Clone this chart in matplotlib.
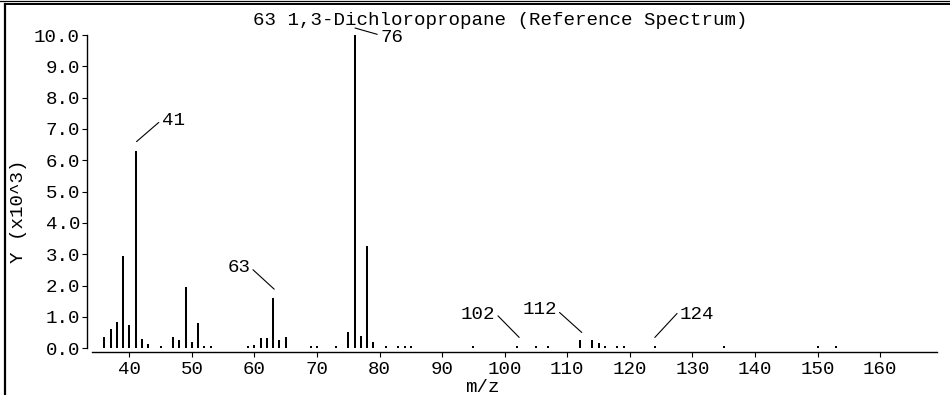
import numpy as np
import matplotlib
matplotlib.use("Agg")
import matplotlib.pyplot as plt
from matplotlib.lines import Line2D
from matplotlib.ticker import FormatStrFormatter
from matplotlib.transforms import offset_copy

plt.rcParams["font.family"] = ["Liberation Mono", "DejaVu Sans Mono"]
plt.rcParams["font.size"] = 13.8

# spectrum (intensity in units of 10^3)
title = "63 1,3-Dichloropropane (Reference Spectrum)"
mz = [36, 37, 38, 39, 40, 41, 42, 43, 45, 47, 48, 49, 50, 51, 52, 53,
      59, 60, 61, 62, 63, 64, 65, 69, 70, 73, 75, 76, 77, 78, 79,
      81, 83, 84, 85, 95, 102, 105, 107, 112, 114, 115, 116, 118, 119,
      124, 135, 150, 153]
intensity = [0.37, 0.62, 0.85, 2.95, 0.74, 6.31, 0.31, 0.13, 0.06, 0.37, 0.26, 1.97, 0.19, 0.80, 0.06, 0.06,
             0.06, 0.10, 0.32, 0.32, 1.60, 0.27, 0.37, 0.06, 0.06, 0.08, 0.51, 10.0, 0.40, 3.25, 0.21,
             0.06, 0.06, 0.06, 0.06, 0.06, 0.06, 0.06, 0.06, 0.25, 0.27, 0.16, 0.06, 0.06, 0.06,
             0.06, 0.06, 0.06, 0.06]
peak_labels = [41, 63, 76, 102, 112, 124]
x_ticks = list(range(40, 161, 10))
y_ticks = list(range(0, 11))

W, H = 950, 395
fig = plt.figure(figsize=(W / 100, H / 100), dpi=100)
ax = fig.add_axes([92 / W, 1 - 348.3 / H, (937 - 92) / W, (348.3 - 35) / H])

ax.vlines(mz, 0, intensity, color="black", lw=1.45)

ax.set_xlim(34.04, 169.1)
ax.set_ylim(0, 10)
ax.set_xticks(x_ticks)
ax.set_yticks(y_ticks)
ax.yaxis.set_major_formatter(FormatStrFormatter("%.1f"))

for s in ["top", "right"]:
    ax.spines[s].set_visible(False)
ax.spines["left"].set_bounds(0, 10)
ax.spines["left"].set_position(("outward", 3.6))
ax.spines["bottom"].set_position(("outward", 2.7))
for s in ["left", "bottom"]:
    ax.spines[s].set_linewidth(1.0)
ax.tick_params(axis="both", direction="out", length=3.6, width=0.8, colors="black")
ax.tick_params(axis="y", pad=1.4)
ax.tick_params(axis="x", pad=3)

# leader lines: gap above the peak (px) and text offset from that point (px)
lead_gap = [(1, 9), (1, 9), (0.5, 7), (2, 9), (2, 8), (0, 9)]
text_off = [(25, -21.6), (-24, -22), (25, 9.7), (-24, -22.7), (-25, -22.5), (25, -22.7)]
rel_y = [0.5, 0.5, 0.65, 0.6, 0.5, 0.75]
for lab, (gx, gy), (tx, ty), ry in zip(peak_labels, lead_gap, text_off, rel_y):
    h = intensity[mz.index(lab)]
    tr = offset_copy(ax.transData, fig=fig, x=gx, y=gy, units="dots")
    left = tx > 0
    ax.annotate(str(lab), xy=(lab, h), xycoords=tr,
                xytext=(tx, -ty), textcoords="offset pixels",
                ha="left" if left else "right", va="center",
                annotation_clip=False,
                arrowprops=dict(arrowstyle="-", lw=0.8, color="black",
                                shrinkA=0, shrinkB=0,
                                relpos=(0 if left else 1, ry)))

fig.text(500 / W, 1 - 25 / H, title, ha="center", va="baseline")
fig.text(482 / W, 1 - 387 / H, "m/z", ha="center", va="center")
fig.text(18.5 / W, 1 - 211 / H, "Y (x10^3)", rotation=90, ha="center", va="center")

# window frame
fig.add_artist(Line2D([0, 1], [1 - 0.5 / H, 1 - 0.5 / H], color="black", lw=0.9))
fig.add_artist(Line2D([4.5 / W, 1], [1 - 4.3 / H, 1 - 4.3 / H], color="black", lw=1.4))
fig.add_artist(Line2D([4.5 / W, 4.5 / W], [0, 1 - 4.3 / H], color="black", lw=1.6))

fig.savefig("out.png", dpi=100)
